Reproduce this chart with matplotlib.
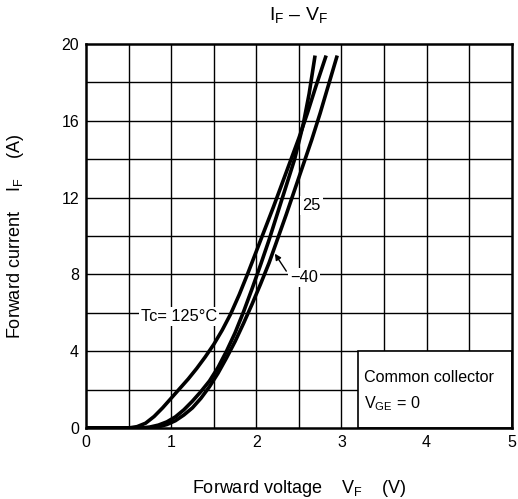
import matplotlib
matplotlib.use('Agg')
import matplotlib.pyplot as plt
from matplotlib.patches import Rectangle

plt.rcParams['font.family'] = ['Liberation Sans', 'DejaVu Sans']
plt.rcParams['mathtext.fontset'] = 'custom'
plt.rcParams['mathtext.rm'] = 'Liberation Sans'
plt.rcParams['mathtext.it'] = 'Liberation Sans'

# curva Tc = 125 C
v125 = [0, 0.5, 0.6, 0.7, 0.8, 0.9, 1.0, 1.1, 1.2, 1.3, 1.4, 1.5, 1.6, 1.7, 1.8,
        1.9, 2.0, 2.1, 2.2, 2.3, 2.4, 2.5, 2.6, 2.7, 2.82]
i125 = [0, 0, 0.07, 0.25, 0.6, 1.05, 1.55, 2.05, 2.55, 3.1, 3.7, 4.35, 5.1, 5.95, 6.95,
        8.05, 9.2, 10.35, 11.5, 12.7, 13.9, 15.1, 16.4, 17.8, 19.4]

# curva Tc = 25 C
v25 = [0, 0.65, 0.75, 0.85, 0.95, 1.05, 1.15, 1.25, 1.35, 1.45, 1.55, 1.65, 1.75,
       1.85, 1.95, 2.05, 2.15, 2.25, 2.35, 2.45, 2.55, 2.62, 2.69]
i25 = [0, 0, 0.05, 0.15, 0.32, 0.58, 0.95, 1.4, 1.9, 2.45, 3.15, 4.0, 4.95,
       6.05, 7.25, 8.5, 9.8, 11.2, 12.6, 14.0, 15.8, 17.4, 19.4]

# curva Tc = -40 C
vm40 = [0, 0.75, 0.85, 0.95, 1.05, 1.15, 1.25, 1.35, 1.45, 1.55, 1.65, 1.75, 1.85,
        1.95, 2.05, 2.15, 2.25, 2.35, 2.45, 2.55, 2.65, 2.75, 2.85, 2.95]
im40 = [0, 0, 0.06, 0.18, 0.38, 0.68, 1.05, 1.55, 2.15, 2.85, 3.65, 4.5, 5.45,
        6.45, 7.5, 8.6, 9.85, 11.1, 12.4, 13.7, 15.0, 16.4, 17.9, 19.4]

xTicks = [0, 1, 2, 3, 4, 5]
yTicks = [0, 4, 8, 12, 16, 20]

fig = plt.figure(figsize=(5.18, 4.99), dpi=100)
ax = fig.add_axes([0.166, 0.1423, 0.822, 0.7695])

ax.set_xlim(0, 5)
ax.set_ylim(0, 20)

# grilla
for gx in [0.5 * k for k in range(1, 10)]:
  ax.axvline(gx, color='black', lw=1.0, zorder=1)
for gy in range(2, 20, 2):
  ax.axhline(gy, color='black', lw=1.0, zorder=1)

# curvas
for v, i in [(v125, i125), (v25, i25), (vm40, im40)]:
  ax.plot(v, i, color='black', lw=2.6, zorder=5, solid_capstyle='butt', solid_joinstyle='round')

# etiquetas de curvas
bbox = dict(facecolor='white', edgecolor='none', pad=1.5)
ax.text(1.09, 5.8, 'Tc= 125°C', fontsize=11.8, ha='center', va='center', bbox=bbox, zorder=3)
ax.text(2.65, 11.6, '25', fontsize=11.8, ha='center', va='center', bbox=bbox, zorder=3)
ax.text(2.56, 7.85, '−40', fontsize=11.8, ha='center', va='center', bbox=bbox, zorder=3)
ax.annotate('', xy=(2.2, 9.2), xytext=(2.37, 8.05),
            arrowprops=dict(arrowstyle='-|>', color='black', lw=1.0, mutation_scale=9),
            zorder=6)

# cuadro de condiciones
ax.add_patch(Rectangle((3.2, 0), 1.8, 4, facecolor='white', edgecolor='black', lw=1.2, zorder=2))
ax.text(3.27, 2.65, 'Common collector', fontsize=11.6, ha='left', va='center', zorder=3)
ax.text(3.27, 1.25, r'V$_{\rm GE}$ = 0', fontsize=11.6, ha='left', va='center', zorder=3)

# ejes
for s in ax.spines.values():
  s.set_linewidth(1.8)
  s.set_zorder(7)
ax.set_xticks(xTicks)
ax.set_yticks(yTicks)
ax.tick_params(length=0, labelsize=11.5, pad=5)

ax.set_title(r'I$_{\rm F}$ – V$_{\rm F}$', fontsize=14, pad=17)
ax.set_xlabel(r'Forward voltage    V$_{\rm F}$    (V)', fontsize=13)
ax.xaxis.set_label_coords(0.5, -0.13)
ax.set_ylabel(r'Forward current    I$_{\rm F}$    (A)', fontsize=13)
ax.yaxis.set_label_coords(-0.14, 0.5)

plt.savefig('out.png', dpi=100)
